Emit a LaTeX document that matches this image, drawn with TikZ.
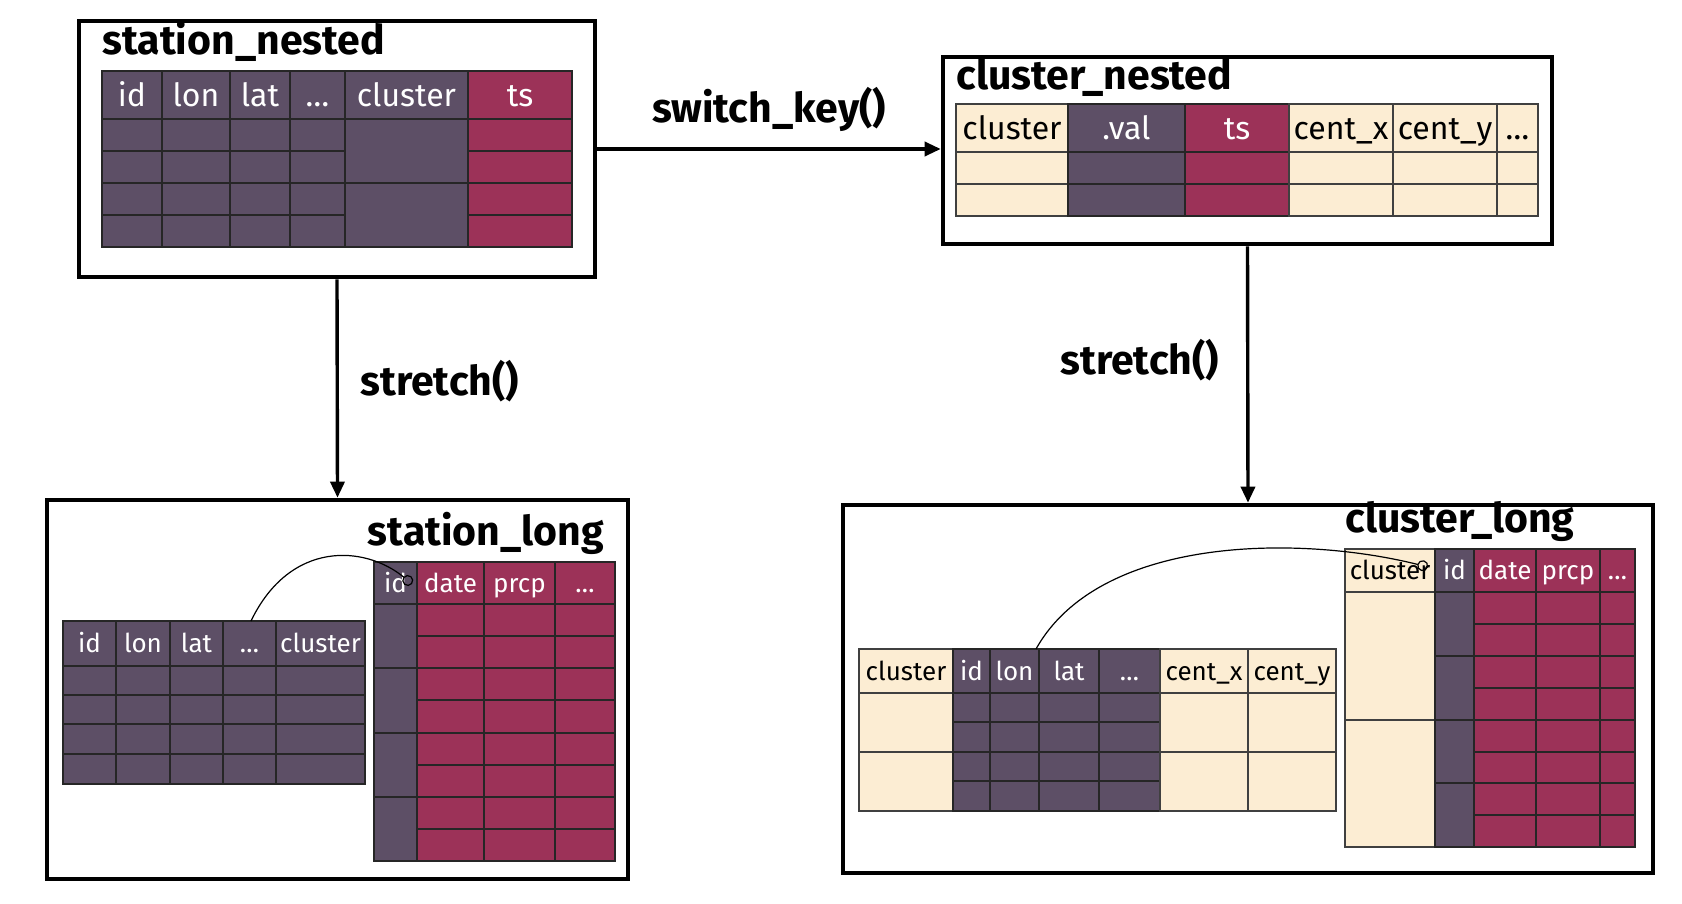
\documentclass[tikz,border=0pt]{standalone}
\usepackage{fontspec}
\setmainfont{Fira Sans}
\usetikzlibrary{positioning, arrows.meta, fit}

\definecolor{plum}{HTML}{5D4F66}
\definecolor{wine}{HTML}{9C3258}
\definecolor{cream}{HTML}{FCEDD3}

\tikzset{
  darkcell/.style={fill=plum, draw=black!85, line width=0.6pt},
  redcell/.style={fill=wine, draw=black!85, line width=0.6pt},
  creamcell/.style={fill=cream, draw=black!75, line width=0.6pt},
  darktext/.style={text=white},
  redtext/.style={text=white},
  creamtext/.style={text=black},
  hdr/.style={inner sep=0pt, text height=11.6pt, text depth=0pt, font=\fontsize{16}{19}\selectfont},
  framebox/.style={draw, line width=2.3pt, inner sep=0pt},
  title/.style={font=\bfseries\fontsize{20.5}{24}\selectfont, inner sep=0pt},
  flow/.style={line width=1.7pt, -{Triangle[length=8pt, width=7pt]}},
  link/.style={line width=0.6pt, -{Circle[open, length=5.5pt]}},
}

% one table column: header cell, then the body cells down to each row end
\newcommand{\tabcol}[8]{%
  \filldraw[#7cell] (#2,#4) rectangle (#3,#5);
  \node[hdr, #7text] (#1) at ({(#2+#3)/2},{(#4+#5)/2}) {#8};
  \foreach \yb [remember=\yb as \ya (initially #5)] in {#6}
    \filldraw[#7cell] (#2,\ya) rectangle (#3,\yb);
}

\begin{document}
\begin{tikzpicture}[x=0.5pt, y=-0.5pt]
  \useasboundingbox (0,0) rectangle (1682,904);

  % frames round the four tables
  \node[framebox, fit={(79,21) (595,277)}] (stnested) {};
  \node[framebox, fit={(943,57) (1552,244)}] (clnested) {};
  \node[framebox, fit={(47,500) (628,879)}] (stlong) {};
  \node[framebox, fit={(843,505) (1653,873)}] (cllong) {};

  % station_nested
  \node[title, anchor=base west] (sntitle) at (102,55) {station\_nested};
  \tabcol{sn-id}{102}{162}{71}{119}{151,183,215,247}{dark}{id}
  \tabcol{sn-lon}{162}{230}{71}{119}{151,183,215,247}{dark}{lon}
  \tabcol{sn-lat}{230}{290}{71}{119}{151,183,215,247}{dark}{lat}
  \tabcol{sn-dots}{290}{345}{71}{119}{151,183,215,247}{dark}{\dots}
  \tabcol{sn-cluster}{345}{468}{71}{119}{183,247}{dark}{cluster}
  \tabcol{sn-ts}{468}{572}{71}{119}{151,183,215,247}{red}{ts}

  % cluster_nested
  \node[title, anchor=base west] (cntitle) at (956,90) {cluster\_nested};
  \tabcol{cn-cluster}{956}{1068}{104}{152}{184,216}{cream}{cluster}
  \tabcol{cn-val}{1068}{1185}{104}{152}{184,216}{dark}{.val}
  \tabcol{cn-ts}{1185}{1289}{104}{152}{184,216}{red}{ts}
  \tabcol{cn-centx}{1289}{1393}{104}{152}{184,216}{cream}{cent\_x}
  \tabcol{cn-centy}{1393}{1497}{104}{152}{184,216}{cream}{cent\_y}
  \tabcol{cn-dots}{1497}{1538}{104}{152}{184,216}{cream}{\dots}

  \begin{scope}[hdr/.append style={font=\fontsize{13}{16}\selectfont, text height=9.4pt}]
    % station_long
    \node[title, anchor=base east] (sltitle) at (604,545) {station\_long};
    \tabcol{sl-id}{63}{116}{621}{666}{695,724,754,784}{dark}{id}
    \tabcol{sl-lon}{116}{170}{621}{666}{695,724,754,784}{dark}{lon}
    \tabcol{sl-lat}{170}{223}{621}{666}{695,724,754,784}{dark}{lat}
    \tabcol{sl-dots}{223}{276}{621}{666}{695,724,754,784}{dark}{\dots}
    \tabcol{sl-cluster}{276}{365}{621}{666}{695,724,754,784}{dark}{cluster}
    \tabcol{slr-id}{374}{417}{562}{604}{668,733,797,861}{dark}{id}
    \tabcol{slr-date}{417}{484}{562}{604}{636,668,700,733,765,797,829,861}{red}{date}
    \tabcol{slr-prcp}{484}{555}{562}{604}{636,668,700,733,765,797,829,861}{red}{prcp}
    \tabcol{slr-dots}{555}{615}{562}{604}{636,668,700,733,765,797,829,861}{red}{\dots}

    % cluster_long
    \node[title, anchor=base west] (cltitle) at (1345,532) {cluster\_long};
    \tabcol{cl-cluster}{859}{953}{649}{693}{752,811}{cream}{cluster}
    \tabcol{cl-id}{953}{990}{649}{693}{722,752,781,811}{dark}{id}
    \tabcol{cl-lon}{990}{1039}{649}{693}{722,752,781,811}{dark}{lon}
    \tabcol{cl-lat}{1039}{1099}{649}{693}{722,752,781,811}{dark}{lat}
    \tabcol{cl-dots}{1099}{1160}{649}{693}{722,752,781,811}{dark}{\dots}
    \tabcol{cl-centx}{1160}{1248}{649}{693}{752,811}{cream}{cent\_x}
    \tabcol{cl-centy}{1248}{1336}{649}{693}{752,811}{cream}{cent\_y}
    \tabcol{clr-cluster}{1345}{1435}{549}{592}{720,847}{cream}{cluster}
    \tabcol{clr-id}{1435}{1474}{549}{592}{656,720,783,847}{dark}{id}
    \tabcol{clr-date}{1474}{1536}{549}{592}{624,656,688,720,752,783,815,847}{red}{date}
    \tabcol{clr-prcp}{1536}{1600}{549}{592}{624,656,688,720,752,783,815,847}{red}{prcp}
    \tabcol{clr-dots}{1600}{1635}{549}{592}{624,656,688,720,752,783,815,847}{red}{\dots}
  \end{scope}

  % steps between the tables
  \draw[flow] (stnested.east) -- (clnested.west |- stnested.east);
  \draw[flow] (stnested.south) -- (stlong.north);
  \draw[flow] (clnested.south) -- (cllong.north);
  \node[title, anchor=base] (switchlbl) at (769,123) {switch\_key()};
  \node[title, anchor=base west] (stretchleft) at (360,395) {stretch()};
  \node[title, anchor=base west] (stretchright) at (1060,374) {stretch()};

  % key links
  \coordinate (stfrom) at (251,621);
  \coordinate (stto) at (412,584);
  \draw[link] (stfrom) .. controls (290,540) and (365,545) .. (stto);
  \coordinate (clfrom) at (1036,649);
  \coordinate (clto) at (1428,567);
  \draw[link] (clfrom) .. controls (1100,535) and (1300,535) .. (clto);
\end{tikzpicture}
\end{document}
